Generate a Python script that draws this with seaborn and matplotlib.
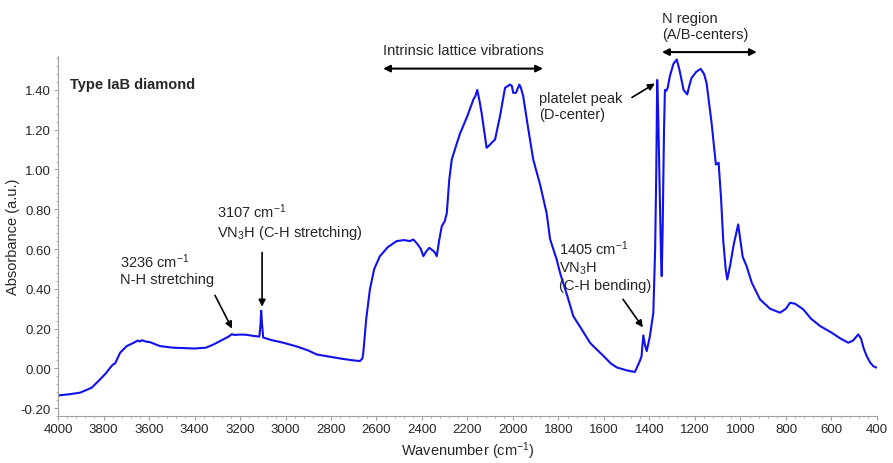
import matplotlib
matplotlib.use("Agg")
import matplotlib.pyplot as plt
import seaborn as sns
import numpy as np
from matplotlib.ticker import MultipleLocator, FormatStrFormatter

wavenumber = [4000, 3950, 3903, 3852, 3815, 3790, 3771, 3760, 3749, 3727, 3698, 3662, 3650, 3640, 3632,
              3615, 3596, 3552, 3493, 3400, 3350, 3317, 3280, 3250, 3236, 3225, 3200, 3171, 3140, 3115,
              3110, 3107, 3103, 3098, 3060, 3010, 2950, 2900, 2863, 2800, 2750, 2700, 2673, 2662, 2658,
              2645, 2629, 2610, 2585, 2550, 2511, 2480, 2453, 2438, 2420, 2405, 2394, 2380, 2368, 2355,
              2345, 2335, 2325, 2313, 2300, 2291, 2280, 2269, 2250, 2233, 2200, 2174, 2165, 2157, 2148,
              2138, 2125, 2116, 2105, 2094, 2079, 2057, 2035, 2013, 2005, 1999, 1987, 1972, 1965, 1955,
              1935, 1911, 1880, 1852, 1837, 1808, 1793, 1760, 1735, 1700, 1662, 1647, 1600, 1570, 1544,
              1500, 1464, 1445, 1435, 1427, 1420, 1412, 1398, 1383, 1375, 1370, 1366, 1362, 1355, 1349,
              1346, 1342, 1336, 1332, 1326, 1320, 1310, 1295, 1280, 1268, 1250, 1234, 1225, 1215, 1195,
              1175, 1160, 1149, 1127, 1108, 1100, 1096, 1085, 1076, 1065, 1058, 1045, 1030, 1010, 1000,
              990, 973, 950, 914, 870, 826, 800, 782, 760, 724, 690, 650, 600, 560, 526,
              505, 482, 470, 458, 445, 430, 415, 401]
absorbance = [-0.136, -0.130, -0.122, -0.097, -0.055, -0.025, 0.003, 0.018, 0.025, 0.079, 0.112, 0.132, 0.140, 0.135, 0.142,
              0.135, 0.132, 0.112, 0.104, 0.100, 0.104, 0.120, 0.142, 0.160, 0.172, 0.168, 0.170, 0.169, 0.163, 0.160,
              0.220, 0.290, 0.220, 0.155, 0.142, 0.129, 0.110, 0.090, 0.070, 0.058, 0.048, 0.040, 0.037, 0.050, 0.079,
              0.250, 0.397, 0.500, 0.564, 0.610, 0.640, 0.645, 0.640, 0.648, 0.625, 0.600, 0.564, 0.590, 0.606, 0.595,
              0.585, 0.564, 0.640, 0.715, 0.740, 0.780, 0.950, 1.050, 1.120, 1.180, 1.270, 1.352, 1.370, 1.400, 1.350,
              1.285, 1.180, 1.109, 1.120, 1.134, 1.150, 1.268, 1.410, 1.427, 1.420, 1.385, 1.385, 1.427, 1.410, 1.368,
              1.220, 1.050, 0.920, 0.780, 0.650, 0.548, 0.480, 0.360, 0.263, 0.200, 0.130, 0.112, 0.060, 0.025, 0.005,
              -0.010, -0.018, 0.030, 0.060, 0.166, 0.120, 0.087, 0.162, 0.280, 0.600, 1.000, 1.450, 1.300, 0.900, 0.550,
              0.464, 0.700, 1.200, 1.400, 1.395, 1.410, 1.470, 1.530, 1.553, 1.500, 1.400, 1.377, 1.420, 1.460, 1.490,
              1.506, 1.480, 1.435, 1.235, 1.025, 1.030, 1.034, 0.850, 0.648, 0.500, 0.447, 0.520, 0.620, 0.724, 0.640,
              0.560, 0.514, 0.430, 0.347, 0.300, 0.280, 0.300, 0.330, 0.325, 0.297, 0.250, 0.213, 0.180, 0.150, 0.129,
              0.140, 0.171, 0.150, 0.100, 0.062, 0.030, 0.010, 0.004]

x_ticks = list(range(4000, 399, -200))
y_ticks = [-0.2, 0.0, 0.2, 0.4, 0.6, 0.8, 1.0, 1.2, 1.4]

sns.set_style("ticks")
plt.rcParams['font.family'] = ['Liberation Sans', 'DejaVu Sans']
plt.rcParams['mathtext.fontset'] = 'custom'
plt.rcParams['mathtext.rm'] = 'Liberation Sans'
plt.rcParams['mathtext.it'] = 'Liberation Sans'
plt.rcParams['mathtext.default'] = 'regular'

fig = plt.figure(figsize=(8.93, 4.64), dpi=100)
ax = fig.add_axes([0.065, 0.101, 0.917, 0.776])

sns.lineplot(x=wavenumber, y=absorbance, sort=False, estimator=None, color='#1010f0', linewidth=1.5, ax=ax)

ax.set_xlim(4000, 400)
ax.set_ylim(-0.24, 1.57)
ax.set_xticks(x_ticks)
ax.set_yticks(y_ticks)
ax.yaxis.set_major_formatter(FormatStrFormatter('%.2f'))
ax.xaxis.set_minor_locator(MultipleLocator(40))
ax.yaxis.set_minor_locator(MultipleLocator(0.04))
for s in ['top', 'right']:
    ax.spines[s].set_visible(False)
for s in ['left', 'bottom']:
    ax.spines[s].set_color('#a0a0a0')
    ax.spines[s].set_linewidth(0.8)
ax.tick_params(axis='both', which='major', length=3, color='#a0a0a0', labelsize=9.5, pad=2)
ax.tick_params(axis='both', which='minor', length=1.5, color='#a0a0a0')

ax.set_xlabel('Wavenumber (cm$^{-1}$)', fontsize=10.5, labelpad=3)
ax.set_ylabel('Absorbance (a.u.)', fontsize=10.5)
ax.yaxis.set_label_coords(-0.046, 0.5)

fs = 10.5
ax.text(3947, 1.43, 'Type IaB diamond', fontsize=10.5, fontweight='bold', va='center', ha='left')

arrow = dict(arrowstyle='-|>', color='black', lw=1.2, mutation_scale=10, shrinkA=0, shrinkB=0)
darrow = dict(arrowstyle='<|-|>', color='black', lw=1.5, mutation_scale=10, shrinkA=0, shrinkB=0)

ax.text(3727, 0.50, '3236 cm$^{-1}$\nN-H stretching', fontsize=fs, ha='left', va='center', linespacing=1.2)
ax.annotate('', xy=(3235, 0.20), xytext=(3310, 0.367), arrowprops=arrow)

ax.text(3300, 0.74, '3107 cm$^{-1}$\nVN$_3$H (C-H stretching)', fontsize=fs, ha='left', va='center', linespacing=1.2)
ax.annotate('', xy=(3103, 0.31), xytext=(3103, 0.583), arrowprops=arrow)

ax.text(2219, 1.60, 'Intrinsic lattice vibrations', fontsize=fs, ha='center', va='center', clip_on=False)
ax.annotate('', xy=(2571, 1.507), xytext=(1868, 1.507), arrowprops=darrow, annotation_clip=False)

ax.text(1887, 1.32, 'platelet peak\n(D-center)', fontsize=fs, ha='left', va='center', linespacing=1.2)
ax.annotate('', xy=(1376, 1.432), xytext=(1477, 1.362), arrowprops=arrow)

ax.text(1345, 1.72, 'N region\n(A/B-centers)', fontsize=fs, ha='left', va='center', linespacing=1.2, clip_on=False)
ax.annotate('', xy=(1345, 1.59), xytext=(928, 1.59), arrowprops=darrow, annotation_clip=False)

ax.text(1799, 0.52, '1405 cm$^{-1}$\nVN$_3$H\n(C-H bending)', fontsize=fs, ha='left', va='center', linespacing=1.2)
ax.annotate('', xy=(1429, 0.206), xytext=(1516, 0.347), arrowprops=arrow)

fig.savefig('out.png', dpi=100)
